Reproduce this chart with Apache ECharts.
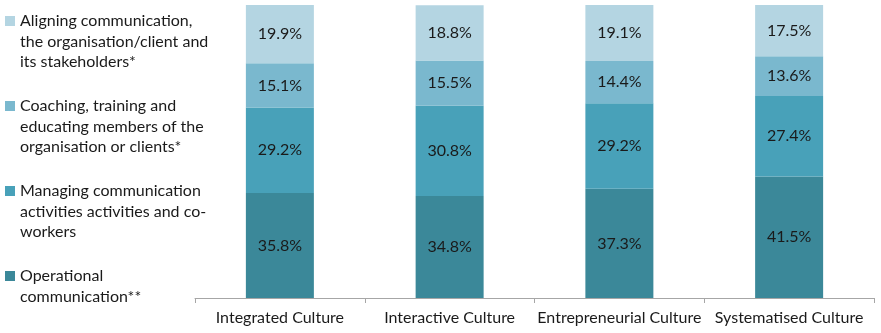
<!DOCTYPE html>
<html>
<head>
<meta charset="utf-8">
<script src="https://cdn.jsdelivr.net/npm/echarts@6/dist/echarts.min.js"></script>
<style>
html,body{margin:0;padding:0;background:#fff;}
#chart{width:881px;height:333px;}
</style>
</head>
<body>
<div id="chart"></div>
<script>
var categories = ['Integrated Culture', 'Interactive Culture', 'Entrepreneurial Culture', 'Systematised Culture'];
var seriesNames = [
  'Operational\ncommunication**',
  'Managing communication\nactivities activities and co-\nworkers',
  'Coaching, training and\neducating members of the\norganisation or clients*',
  'Aligning communication,\nthe organisation/client and\nits stakeholders*'
];
var operational = [35.8, 34.8, 37.3, 41.5];
var managing = [29.2, 30.8, 29.2, 27.4];
var coaching = [15.1, 15.5, 14.4, 13.6];
var aligning = [19.9, 18.8, 19.1, 17.5];

var colors = ['#3b8899', '#48a1b9', '#7ab8ce', '#b4d5e2'];
var values = [operational, managing, coaching, aligning];
var FONT = 'Lato';
var LH = 20.5;

var chart = echarts.init(document.getElementById('chart'), null, {renderer: 'canvas'});

var series = seriesNames.map(function (name, i) {
  return {
    name: name,
    type: 'bar',
    stack: 'total',
    barWidth: 68,
    data: values[i],
    itemStyle: {color: colors[i]},
    label: {
      show: true,
      position: 'inside',
      color: '#1a1a1a',
      fontFamily: FONT,
      fontSize: 16,
      formatter: function (p) { return p.value.toFixed(1) + '%'; }
    },
    emphasis: {disabled: true}
  };
});

// legend text is centred on its icon: use 5-line blocks with the first real line in the middle
function legendFormatter(name) {
  var n = name.split('\n').length;
  var after = 3 - n;
  var s = '\n\n' + name;
  for (var j = 0; j < after; j++) s += '\n\u00a0';
  return s;
}

chart.setOption({
  animation: false,
  backgroundColor: '#ffffff',
  legend: {
    orient: 'vertical',
    left: 5,
    top: 21 - 2.5 * LH,
    itemWidth: 10,
    itemHeight: 10,
    itemGap: 85 - 5 * LH,
    padding: 0,
    selectedMode: false,
    data: [3, 2, 1, 0].map(function (i) { return {name: seriesNames[i], icon: 'rect'}; }),
    formatter: legendFormatter,
    textStyle: {
      fontFamily: FONT,
      fontSize: 16,
      color: '#1a1a1a',
      lineHeight: LH
    }
  },
  grid: {left: 195, right: 7, top: 5, bottom: 35, containLabel: false},
  xAxis: {
    type: 'category',
    data: categories,
    axisLine: {lineStyle: {color: '#a6a6a6', width: 1}},
    axisTick: {show: true, length: 5, alignWithLabel: false, lineStyle: {color: '#a6a6a6'}},
    axisLabel: {fontFamily: FONT, fontSize: 16, color: '#1a1a1a', margin: 12, interval: 0}
  },
  yAxis: {
    type: 'value',
    min: 0,
    max: 100,
    show: false,
    splitLine: {show: false}
  },
  series: series
});
</script>
</body>
</html>
